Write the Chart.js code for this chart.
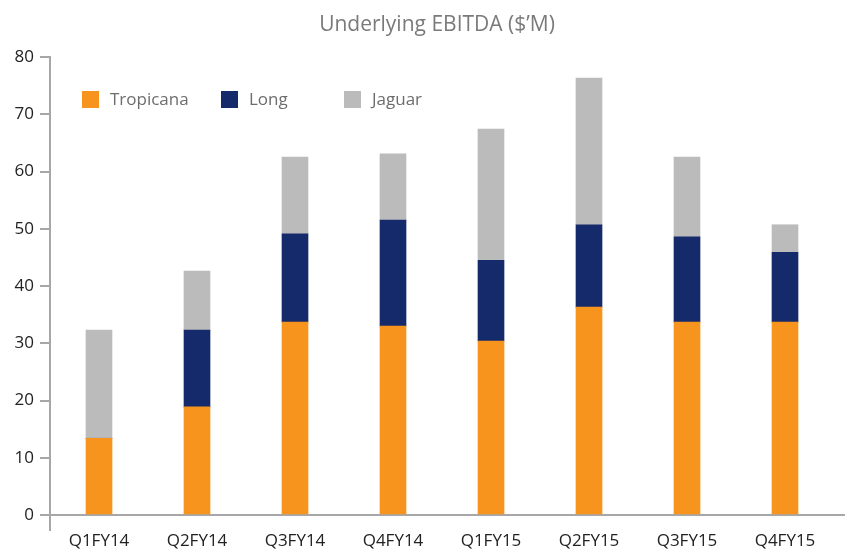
<!DOCTYPE html>
<html>
<head>
<meta charset="utf-8">
<script src="https://cdn.jsdelivr.net/npm/chart.js@4"></script>
<style>
  html, body { margin: 0; padding: 0; background: #fff; }
  #wrap { width: 845px; height: 549px; }
</style>
</head>
<body>
<div id="wrap"><canvas id="ebitda-chart"></canvas></div>
<script>
// values ($M)
var quarters = ['Q1FY14', 'Q2FY14', 'Q3FY14', 'Q4FY14', 'Q1FY15', 'Q2FY15', 'Q3FY15', 'Q4FY15'];
var tropicana = [13.4, 18.9, 33.7, 33.0, 30.4, 36.3, 33.7, 33.7];
var longMine = [0, 13.4, 15.4, 18.5, 14.1, 14.4, 14.9, 12.2];
var jaguar = [18.9, 10.3, 13.4, 11.6, 22.9, 25.6, 13.9, 4.8];
var seriesNames = ['Tropicana', 'Long', 'Jaguar'];
var seriesColors = ['#f7941d', '#142a6b', '#bcbbbc'];
var chartTitle = 'Underlying EBITDA ($\u2019M)';

var fontFamily = "'Open Sans', 'DejaVu Sans', sans-serif";

// legend sits inside the plot, top left, with uneven gaps
var legendX = [82, 221, 344];

var decorations = {
    id: 'decorations',
    afterDraw: function (chart) {
        var ctx = chart.ctx;
        var area = chart.chartArea;
        ctx.save();
        // title, a bit right of the canvas centre like the original
        ctx.font = '21px ' + fontFamily;
        ctx.textAlign = 'center';
        ctx.textBaseline = 'middle';
        ctx.fillStyle = '#7a7a7a';
        ctx.fillText(chartTitle, 437, 25);

        ctx.font = '17px ' + fontFamily;
        ctx.textAlign = 'left';
        chart.data.datasets.forEach(function (ds, i) {
            var x = legendX[i];
            ctx.fillStyle = ds.backgroundColor;
            ctx.fillRect(x, 91, 17, 17);
            ctx.fillStyle = '#6d6d6d';
            ctx.fillText(ds.label, x + 28, 100);
        });
        // y axis runs a little below the x axis, x axis runs to the edge
        ctx.strokeStyle = '#a7a7a9';
        ctx.lineWidth = 2;
        ctx.beginPath();
        ctx.moveTo(area.left, area.bottom);
        ctx.lineTo(area.left, area.bottom + 16);
        ctx.moveTo(area.right, area.bottom);
        ctx.lineTo(chart.width, area.bottom);
        ctx.stroke();
        ctx.restore();
    }
};

var datasets = [tropicana, longMine, jaguar].map(function (vals, i) {
    return {
        label: seriesNames[i],
        data: vals,
        backgroundColor: seriesColors[i],
        barThickness: 26,
        stack: 'ebitda'
    };
});

new Chart(document.getElementById('ebitda-chart'), {
    type: 'bar',
    data: { labels: quarters, datasets: datasets },
    plugins: [decorations],
    options: {
        responsive: true,
        maintainAspectRatio: false,
        animation: false,
        layout: { padding: { top: 57, right: 11, left: 0, bottom: 0 } },
        plugins: {
            legend: { display: false },
            tooltip: { enabled: false },
            title: { display: false }
        },
        scales: {
            x: {
                stacked: true,
                grid: { display: false, drawTicks: false },
                border: { color: '#a7a7a9', width: 2 },
                ticks: {
                    color: '#222',
                    font: { family: fontFamily, size: 17 },
                    padding: 16
                },
                afterFit: function (scale) { scale.height = 34; }
            },
            y: {
                stacked: true,
                min: 0,
                max: 80,
                ticks: {
                    stepSize: 10,
                    color: '#222',
                    font: { family: fontFamily, size: 17 },
                    padding: 6
                },
                grid: {
                    drawOnChartArea: false,
                    drawTicks: true,
                    tickLength: 10,
                    color: '#a7a7a9',
                    lineWidth: 2
                },
                border: { color: '#a7a7a9', width: 2 },
                afterFit: function (scale) { scale.width = 50; }
            }
        }
    }
});
</script>
</body>
</html>
